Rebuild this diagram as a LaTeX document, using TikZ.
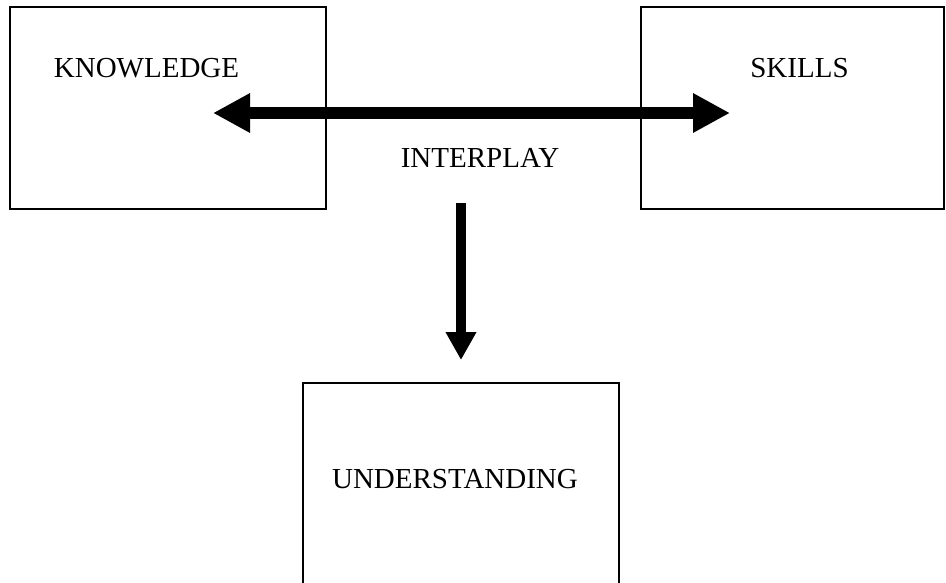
\documentclass[tikz,border=0pt]{standalone}
\usepackage{fontspec}
\setmainfont{Liberation Serif}
\usetikzlibrary{arrows.meta}
\begin{document}
\begin{tikzpicture}[x=1pt,y=-1pt,
  box/.style={draw=black,line width=1.6pt,minimum width=#1,inner sep=0pt},
  lbl/.style={font=\fontsize{29}{34}\selectfont,inner sep=0pt},
  bigarrow/.style={line width=12pt,-{Triangle[length=37pt,width=37pt]}},
  bigarrows/.style={line width=12pt,{Triangle[length=37pt,width=37pt]}-{Triangle[length=37pt,width=37pt]}},
  downarrow/.style={line width=10pt,-{Triangle[length=28pt,width=29pt]}}]
\useasboundingbox (0,0) rectangle (946,583);
\clip (0,0) rectangle (946,583);
\node[box=316pt,minimum height=202pt] (kbox) at (168,108) {};
\node[box=303pt,minimum height=202pt] (sbox) at (792.5,108) {};
\node[box=316pt,minimum height=220pt] (ubox) at (461,493) {};
\node[lbl] (ktext) at (146.5,68.5) {KNOWLEDGE};
\node[lbl] (stext) at (799.5,68.5) {SKILLS};
\node[lbl] (itext) at (480,157.5) {INTERPLAY};
\node[lbl] (utext) at (455,479.5) {UNDERSTANDING};
\coordinate (al) at (213,113);
\coordinate (ar) at (730,113);
\coordinate (dtop) at (461,203);
\coordinate (dbot) at (461,360);
\draw[bigarrows] (al) -- (ar);
\draw[downarrow] (dtop) -- (dbot);
\end{tikzpicture}
\end{document}
